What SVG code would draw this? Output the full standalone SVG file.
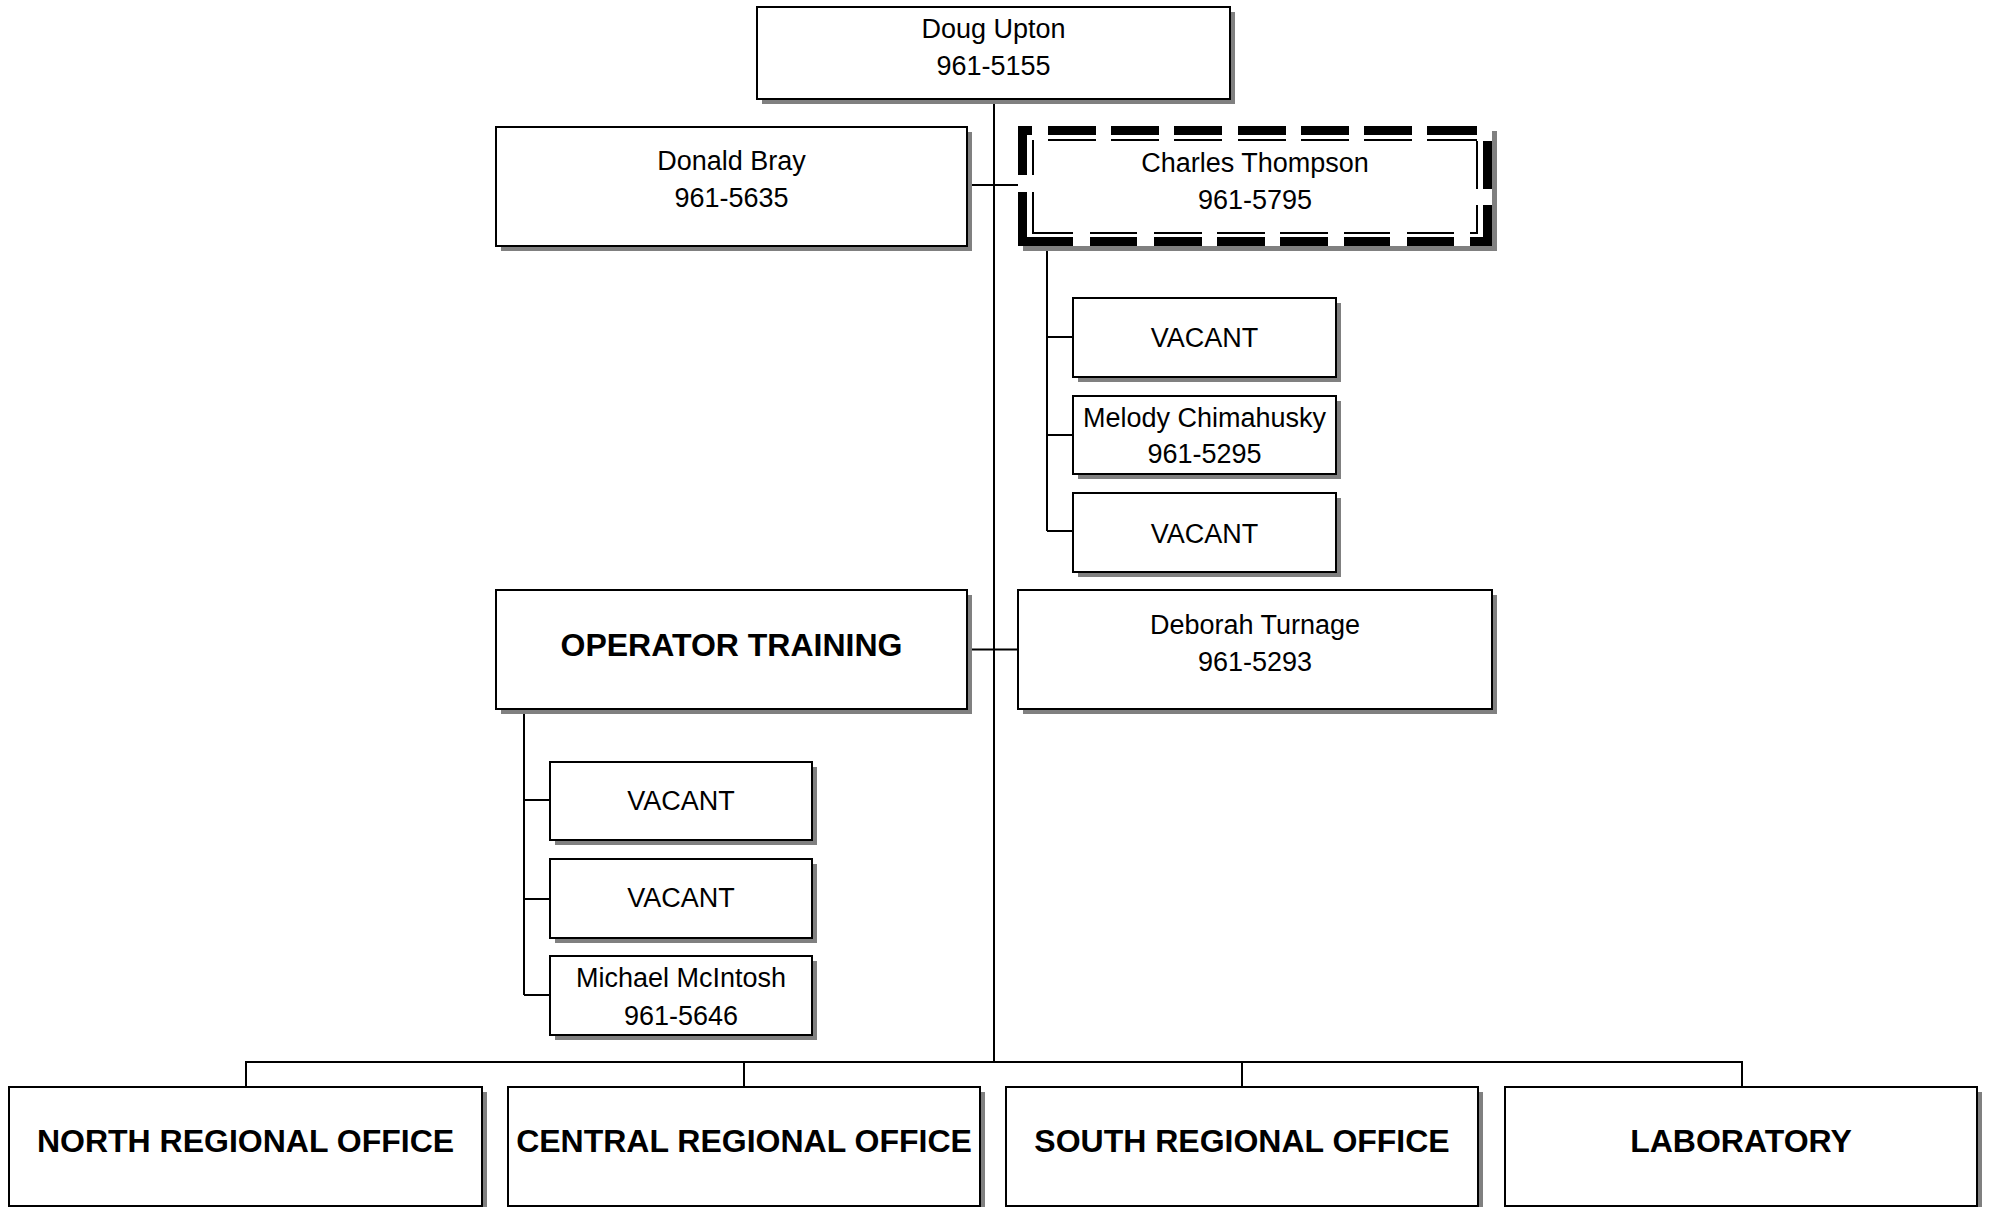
<svg xmlns="http://www.w3.org/2000/svg" width="1989" height="1207" viewBox="0 0 1989 1207">
<style>
.box{fill:#fff;stroke:#000;stroke-width:2}
.sh{fill:#808080}
.t{font-family:"Liberation Sans",Arial,sans-serif;font-size:27px;fill:#000;text-anchor:middle}
.b{font-family:"Liberation Sans",Arial,sans-serif;font-size:32px;font-weight:bold;fill:#000;text-anchor:middle}
.c{fill:none;stroke:#000;stroke-width:2}
.thick{fill:none;stroke:#000;stroke-width:9}
.thin{fill:none;stroke:#000;stroke-width:2}
</style>
<rect width="1989" height="1207" fill="#fff"/>
<g id="connectors">
<path class="c" d="M994 99V1062"/>
<path class="c" d="M967 185H1018"/>
<path class="c" d="M1047 251V531M1047 337H1073M1047 435H1073M1047 531H1073"/>
<path class="c" d="M967 649.5H1018"/>
<path class="c" d="M524 709V995M524 800H550M524 899H550M524 995H550"/>
<path class="c" d="M246 1087V1062H1742V1087M744 1062V1087M1242 1062V1087"/>
</g>
<g id="doug">
<rect class="sh" x="762" y="12" width="473" height="92"/>
<rect class="box" x="757" y="7" width="473" height="92"/>
<text class="t" x="993.5" y="38">Doug Upton</text>
<text class="t" x="993.5" y="75">961-5155</text>
</g>
<g id="donald">
<rect class="sh" x="501" y="132" width="471" height="119"/>
<rect class="box" x="496" y="127" width="471" height="119"/>
<text class="t" x="731.5" y="170">Donald Bray</text>
<text class="t" x="731.5" y="207">961-5635</text>
</g>
<g id="charles">
<rect class="sh" x="1023" y="131" width="474" height="120"/>
<rect fill="#fff" x="1018" y="126" width="474" height="120"/>
<path class="thick" d="M1018 130.5H1032M1048 130.5H1096M1111 130.5H1159M1174 130.5H1222M1238 130.5H1286M1301 130.5H1349M1364 130.5H1412M1427 130.5H1477M1487.5 141V189M1487.5 205V246M1492 241.5H1470M1454 241.5H1407M1390 241.5H1344M1328 241.5H1280M1265 241.5H1217M1202 241.5H1154M1137 241.5H1090M1073 241.5H1022.5M1022.5 246V192M1022.5 175V126"/>
<path class="thin" d="M1048 140H1096M1111 140H1159M1174 140H1222M1238 140H1286M1301 140H1349M1364 140H1412M1427 140H1477M1477 141V189M1477 205V233H1470M1454 233H1407M1390 233H1344M1328 233H1280M1265 233H1217M1202 233H1154M1137 233H1090M1073 233H1033V192M1033 175V140"/>
<text class="t" x="1255" y="172">Charles Thompson</text>
<text class="t" x="1255" y="209">961-5795</text>
</g>
<g id="vacant-r1">
<rect class="sh" x="1078" y="303" width="263" height="79"/>
<rect class="box" x="1073" y="298" width="263" height="79"/>
<text class="t" x="1204.5" y="347">VACANT</text>
</g>
<g id="melody">
<rect class="sh" x="1078" y="401" width="263" height="78"/>
<rect class="box" x="1073" y="396" width="263" height="78"/>
<text class="t" x="1204.5" y="427">Melody Chimahusky</text>
<text class="t" x="1204.5" y="463">961-5295</text>
</g>
<g id="vacant-r2">
<rect class="sh" x="1078" y="498" width="263" height="79"/>
<rect class="box" x="1073" y="493" width="263" height="79"/>
<text class="t" x="1204.5" y="543">VACANT</text>
</g>
<g id="operator-training">
<rect class="sh" x="501" y="595" width="471" height="119"/>
<rect class="box" x="496" y="590" width="471" height="119"/>
<text class="b" x="731.5" y="656">OPERATOR TRAINING</text>
</g>
<g id="deborah">
<rect class="sh" x="1023" y="595" width="474" height="119"/>
<rect class="box" x="1018" y="590" width="474" height="119"/>
<text class="t" x="1255" y="634">Deborah Turnage</text>
<text class="t" x="1255" y="671">961-5293</text>
</g>
<g id="vacant-l1">
<rect class="sh" x="555" y="767" width="262" height="78"/>
<rect class="box" x="550" y="762" width="262" height="78"/>
<text class="t" x="681" y="810">VACANT</text>
</g>
<g id="vacant-l2">
<rect class="sh" x="555" y="864" width="262" height="79"/>
<rect class="box" x="550" y="859" width="262" height="79"/>
<text class="t" x="681" y="907">VACANT</text>
</g>
<g id="michael">
<rect class="sh" x="555" y="961" width="262" height="79"/>
<rect class="box" x="550" y="956" width="262" height="79"/>
<text class="t" x="681" y="987">Michael McIntosh</text>
<text class="t" x="681" y="1025">961-5646</text>
</g>
<g id="north">
<rect class="sh" x="14" y="1092" width="473" height="119"/>
<rect class="box" x="9" y="1087" width="473" height="119"/>
<text class="b" x="245.5" y="1152">NORTH REGIONAL OFFICE</text>
</g>
<g id="central">
<rect class="sh" x="513" y="1092" width="472" height="119"/>
<rect class="box" x="508" y="1087" width="472" height="119"/>
<text class="b" x="744" y="1152">CENTRAL REGIONAL OFFICE</text>
</g>
<g id="south">
<rect class="sh" x="1011" y="1092" width="472" height="119"/>
<rect class="box" x="1006" y="1087" width="472" height="119"/>
<text class="b" x="1242" y="1152">SOUTH REGIONAL OFFICE</text>
</g>
<g id="laboratory">
<rect class="sh" x="1510" y="1092" width="472" height="119"/>
<rect class="box" x="1505" y="1087" width="472" height="119"/>
<text class="b" x="1741" y="1152">LABORATORY</text>
</g>
</svg>
